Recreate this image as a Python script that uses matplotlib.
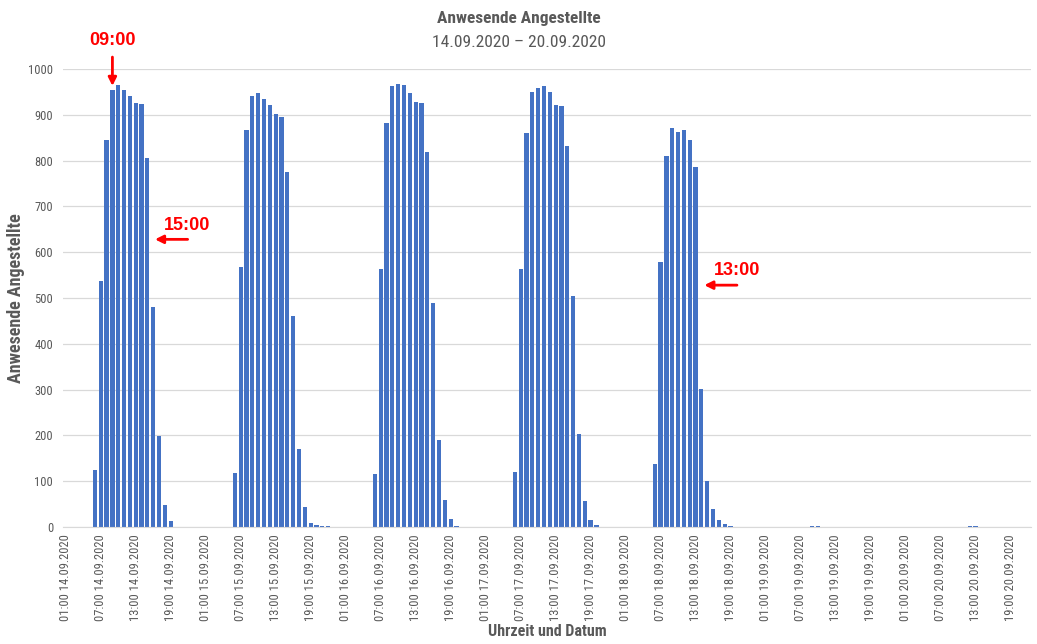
import matplotlib.pyplot as plt
import numpy as np
import pandas as pd

# hourly headcount, values from 06:00 onwards for each day
mon = [124, 538, 844, 955, 964, 955, 942, 926, 924, 806, 481, 199, 48, 12, 1]
tue = [117, 567, 867, 942, 947, 934, 921, 902, 896, 776, 461, 170, 43, 9, 5, 3, 1.5, 1]
wed = [116, 563, 882, 963, 967, 965, 948, 928, 925, 818, 488, 191, 60, 18, 1.5]
thu = [120, 563, 860, 950, 958, 962, 950, 922, 920, 832, 504, 204, 57, 15, 4]
fri = [137, 579, 810, 871, 863, 867, 844, 786, 302, 100, 40, 16, 6, 3]
sat = [0, 0, 1, 3, 3, 1, 0, 1]
sun = [0, 0, 0, 0, 0, 0, 1.5, 1.5]
days = [mon, tue, wed, thu, fri, sat, sun]

times = pd.date_range("2020-09-14 01:00", periods=166, freq="h")
counts = np.zeros(len(times))
for d, vals in enumerate(days):
    start = d * 24 + 5  # 06:00 of that day
    counts[start:start + len(vals)] = vals

labels = [t.strftime("%H:%M %d.%m.%Y") for t in times]

narrow = ["Roboto Condensed", "Liberation Sans Narrow", "Roboto", "DejaVu Sans"]
grey = "#595959"

fig = plt.figure(figsize=(10.37, 6.44), dpi=100)
ax = fig.add_axes([0.0606, 0.1817, 0.9335, 0.7112])

x = np.arange(len(times))
ax.bar(x, counts, width=0.72, color="#4472C4", zorder=2)

ax.set_xlim(-0.5, len(times) - 0.5)
ax.set_ylim(0, 1000)
ax.set_yticks(range(0, 1001, 100))
ax.set_xticks(x[::6])
ax.set_xticklabels(labels[::6], rotation=90, family=narrow, fontsize=9, color=grey)
for lab in ax.get_yticklabels():
    lab.set_family(narrow)
    lab.set_fontsize(9)
    lab.set_color(grey)
ax.tick_params(axis="both", length=0)
ax.tick_params(axis="y", pad=7)
ax.tick_params(axis="x", pad=5)

ax.grid(axis="y", color="#D9D9D9", linewidth=0.9, zorder=0)
for s in ["top", "right", "left"]:
    ax.spines[s].set_visible(False)
ax.spines["bottom"].set_color("#D9D9D9")

ax.set_ylabel("Anwesende Angestellte", family=narrow, fontsize=13,
              fontweight="bold", color=grey)
ax.yaxis.set_label_coords(-0.039, 0.5)
ax.set_xlabel("Uhrzeit und Datum", family=narrow, fontsize=11.5,
              fontweight="bold", color=grey, labelpad=2)

fig.text(0.5, 0.972, "Anwesende Angestellte", ha="center", va="center",
         family=narrow, fontsize=12.5, fontweight="bold", color=grey)
fig.text(0.5, 0.934, "14.09.2020 \u2013 20.09.2020", ha="center", va="center",
         family=narrow, fontsize=12.6, color=grey)

# red markers for start and end of the working day
red = "#FF0000"
arrow = dict(arrowstyle="-|>", color=red, lw=2, mutation_scale=12,
             shrinkA=0, shrinkB=0)
ax.annotate("", xy=(8, 963), xytext=(8, 1026), arrowprops=arrow,
            annotation_clip=False)
ax.text(8.1, 1063, "09:00", ha="center", va="center", color=red,
        fontsize=13, fontweight="bold", family="Liberation Sans", clip_on=False)
ax.annotate("", xy=(15.3, 628), xytext=(20.9, 628), arrowprops=arrow)
ax.text(20.8, 659, "15:00", ha="center", va="center", color=red,
        fontsize=13, fontweight="bold", family="Liberation Sans")
ax.annotate("", xy=(109.5, 528), xytext=(115.1, 528), arrowprops=arrow)
ax.text(115.1, 561, "13:00", ha="center", va="center", color=red,
        fontsize=13, fontweight="bold", family="Liberation Sans")

fig.savefig("out.png", dpi=100)
